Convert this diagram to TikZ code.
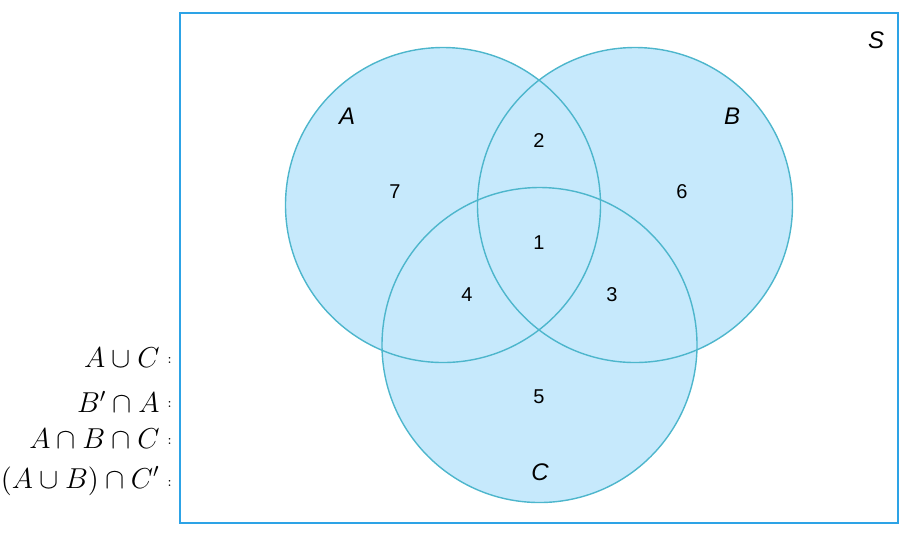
\documentclass[tikz,border=0pt]{standalone}
\usepackage{xcolor}
\usepackage{tikz}
\usepackage{amsmath, amssymb}
\usepackage{fontspec}
\setsansfont{Liberation Sans}

\definecolor{setfill}{HTML}{C6E9FC}
\definecolor{setline}{HTML}{4DB6CC}
\definecolor{boxline}{HTML}{2DA3E6}

\tikzset{
  region/.style={font=\sffamily\fontsize{10}{12}\selectfont},
  setname/.style={font=\sffamily\itshape\fontsize{12}{14}\selectfont},
  expr/.style={anchor=east, font=\fontsize{13.7}{16}\selectfont, inner sep=0pt},
  colon/.style={anchor=west, font=\scriptsize, inner sep=0pt}
}

\begin{document}
\begin{tikzpicture}[x=0.5pt, y=-0.5pt]

\useasboundingbox (0,0) rectangle (914,554);

\draw[boxline, line width=1pt] (180,13) rectangle (898,523);

\fill[setfill] (443,205) circle(157.5); % A
\fill[setfill] (635,205) circle(157.5); % B
\fill[setfill] (539.5,345) circle(157.5); % C

\draw[setline, line width=0.7pt] (443,205) circle(157.5);
\draw[setline, line width=0.7pt] (635,205) circle(157.5);
\draw[setline, line width=0.7pt] (539.5,345) circle(157.5);

\node[setname] (nA) at (347,116) {A};
\node[setname] (nB) at (732,116) {B};
\node[setname] (nC) at (540,472) {C};
\node[setname] (nS) at (876,40) {S};

\node[region] (r7) at (395,192) {7};
\node[region] (r2) at (539,141) {2};
\node[region] (r6) at (682,192) {6};
\node[region] (r1) at (539,243) {1};
\node[region] (r4) at (467,295) {4};
\node[region] (r3) at (612,295) {3};
\node[region] (r5) at (539,397) {5};

\node[expr] (e1) at (160,358) {$A \cup C$};
\node[expr] (e2) at (160,402) {$B' \cap A$};
\node[expr] (e3) at (160,439) {$A \cap B \cap C$};
\node[expr] (e4) at (160,481) {$(A \cup B) \cap C'$};

\node[colon] (c1) at (167,360) {:};
\node[colon] (c2) at (167,404) {:};
\node[colon] (c3) at (167,441) {:};
\node[colon] (c4) at (167,483) {:};

\end{tikzpicture}
\end{document}
